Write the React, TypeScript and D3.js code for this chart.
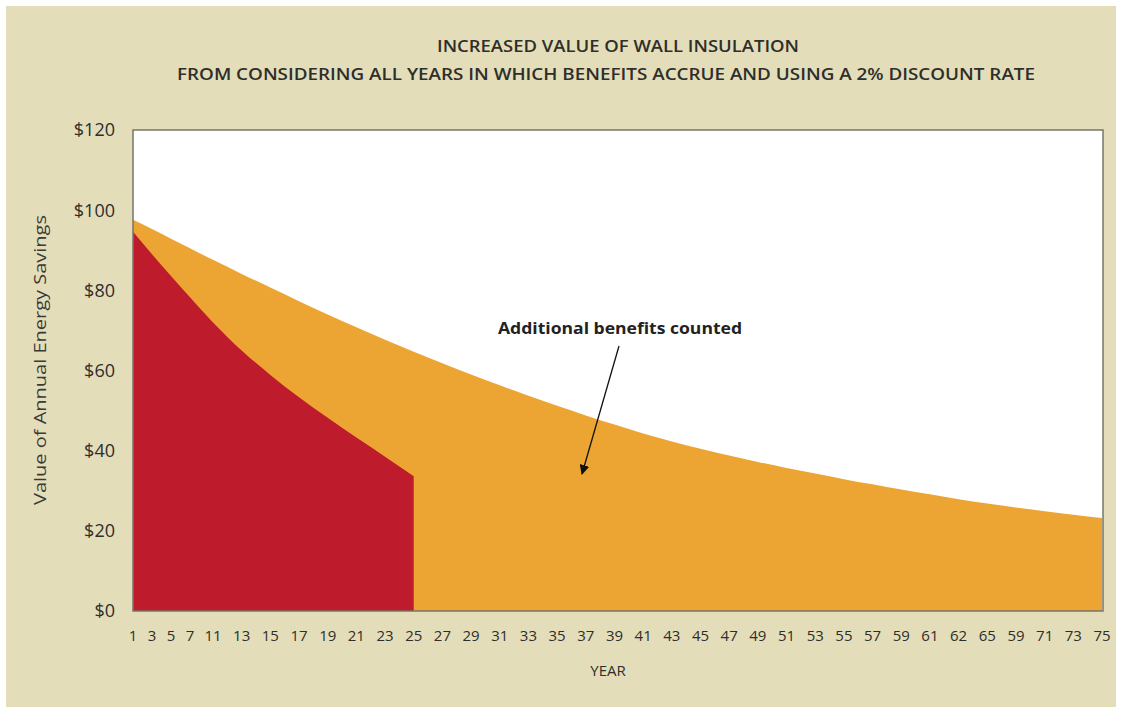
import React from "react";
import * as d3 from "d3";

const yearLabels = [
  "1", "3", "5", "7", "11", "13", "15", "17", "19", "21", "23", "25",
  "27", "29", "31", "33", "35", "37", "39", "41", "43", "45", "47", "49",
  "51", "53", "55", "57", "59", "61", "62", "65", "59", "71", "73", "75",
];

// Value with all years counted, 2% discount rate (orange)
const allYearsValues = [
  97.6, 95.3, 92.9, 90.5, 87.6, 84.1, 80.7, 77.3, 74.0, 70.8, 67.7, 64.7,
  61.8, 59.0, 56.3, 53.7, 51.2, 48.8, 46.5, 44.3, 42.3, 40.5, 38.8, 37.2,
  35.7, 34.3, 32.9, 31.6, 30.3, 29.1, 27.9, 26.8, 25.8, 24.9, 24.0, 23.2,
];

// Value as previously counted, first 25 years only (red)
const firstYearsValues = [
  94.6, 89.0, 83.6, 78.3, 72.0, 65.0, 58.9, 53.3, 48.2, 43.3, 38.5, 33.6,
];

const yTicks = [0, 20, 40, 60, 80, 100, 120];

const titleLines = [
  "INCREASED VALUE OF WALL INSULATION",
  "FROM CONSIDERING ALL YEARS IN WHICH BENEFITS ACCRUE AND USING A 2% DISCOUNT RATE",
];

const W = 1122;
const H = 713;
const plot = { left: 133, right: 1103, top: 130, bottom: 611 };

const BG = "#e4ddba";
const ORANGE = "#eca532";
const RED = "#be1b2d";
const TEXT = "#2e2e2a";
const FONT = "'Open Sans', 'Noto Sans', sans-serif";

export default function App() {
  const x = d3
    .scaleLinear()
    .domain([0, 3, 4, yearLabels.length - 1])
    .range([plot.left, 190, 213, plot.right - 1]);
  const y = d3.scaleLinear().domain([0, 120]).range([plot.bottom, plot.top]);

  const area = d3
    .area<number>()
    .x((_, i) => x(i))
    .y0(y(0))
    .y1((d) => y(d))
    .curve(d3.curveMonotoneX);

  const arrowStart: [number, number] = [619, 346];
  const arrowEnd: [number, number] = [582, 474];

  return (
    <svg
      width={W}
      height={H}
      style={{ position: "absolute", left: 0, top: 0, background: "#ffffff" }}
    >
      <defs>
        <marker
          id="arrowhead"
          viewBox="0 0 10 10"
          refX="9"
          refY="5"
          markerWidth="10"
          markerHeight="10"
          orient="auto"
          markerUnits="userSpaceOnUse"
        >
          <path d="M0,0 L10,5 L0,10 Z" fill="#111" />
        </marker>
      </defs>
      <rect x={6} y={6} width={W - 12} height={H - 12} fill={BG} />

      {/* Title */}
      <text
        x={618}
        y={52}
        textAnchor="middle"
        fontFamily={FONT}
        fontWeight={600}
        fontSize={17}
        fill={TEXT}
        textLength={362}
        lengthAdjust="spacingAndGlyphs"
      >
        {titleLines[0]}
      </text>
      <text
        x={606}
        y={80}
        textAnchor="middle"
        fontFamily={FONT}
        fontWeight={600}
        fontSize={17}
        fill={TEXT}
        textLength={858}
        lengthAdjust="spacingAndGlyphs"
      >
        {titleLines[1]}
      </text>

      {/* Plot background */}
      <rect
        x={plot.left}
        y={plot.top}
        width={plot.right - plot.left}
        height={plot.bottom - plot.top}
        fill="#ffffff"
      />

      <path d={area(allYearsValues) || ""} fill={ORANGE} />
      <path d={area(firstYearsValues) || ""} fill={RED} />

      <rect
        x={plot.left}
        y={plot.top}
        width={plot.right - plot.left}
        height={plot.bottom - plot.top}
        fill="none"
        stroke="#77766a"
        strokeWidth={1.5}
      />

      {/* Y ticks */}
      {yTicks.map((t) => (
        <text
          key={t}
          x={115}
          y={y(t)}
          dy="0.36em"
          textAnchor="end"
          fontFamily={FONT}
          fontSize={18}
          fill={TEXT}
        >
          {`$${t}`}
        </text>
      ))}
      <text
        transform="translate(46, 360) rotate(-90)"
        textAnchor="middle"
        fontFamily={FONT}
        fontSize={17}
        fill="#3a3a36"
        textLength={290}
        lengthAdjust="spacingAndGlyphs"
      >
        Value of Annual Energy Savings
      </text>

      {/* X ticks */}
      {yearLabels.map((lab, i) => (
        <text
          key={i}
          x={x(i)}
          y={641}
          textAnchor="middle"
          fontFamily={FONT}
          fontSize={15}
          fill={TEXT}
        >
          {lab}
        </text>
      ))}
      <text
        x={608}
        y={676}
        textAnchor="middle"
        fontFamily={FONT}
        fontSize={15}
        fill={TEXT}
      >
        YEAR
      </text>

      {/* Annotation */}
      <text
        x={620}
        y={334}
        textAnchor="middle"
        fontFamily={FONT}
        fontWeight={700}
        fontSize={16}
        fill="#222"
        textLength={244}
        lengthAdjust="spacingAndGlyphs"
      >
        Additional benefits counted
      </text>
      <line
        x1={arrowStart[0]}
        y1={arrowStart[1]}
        x2={arrowEnd[0]}
        y2={arrowEnd[1]}
        stroke="#111"
        strokeWidth={1.3}
        markerEnd="url(#arrowhead)"
      />
    </svg>
  );
}
